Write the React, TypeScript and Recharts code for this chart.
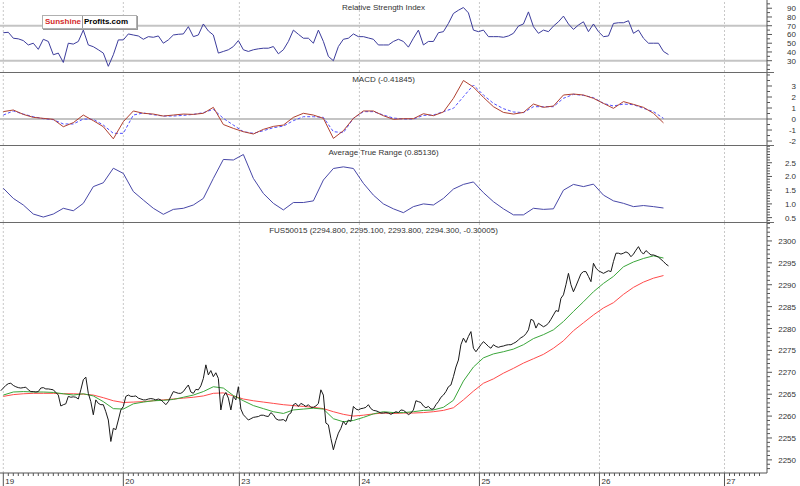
import React from 'react';
import { LineChart, Line, XAxis, YAxis, ReferenceLine } from 'recharts';

// day session starts, in hours from the first session (19th)
const DAY_LABELS = ['19', '20', '23', '24', '25', '26', '27'];
const DAY_HOURS = [0, 24, 47.2, 71.2, 95.2, 119.2, 144.2];
const X_MIN = -0.66;
const X_MAX = 152.7;

// RSI, hourly
const RSI = [
  62, 62.5, 55.7, 55, 53, 48, 50, 43, 54.5, 52, 36.8, 38.7, 28, 50, 49, 52, 65, 48, 46, 42.5,
  38.7, 23.6, 36.8, 53.8, 53.8, 60.6, 59.4, 58.3, 54.5, 57.5, 56.8, 58.3, 50, 53.8, 59.4, 60.2, 60.6, 68.9, 57.5, 59.4,
  72, 64, 59.4, 38.7, 40.6, 42.5, 46.2, 53, 42.5, 40.6, 42.5, 43.6, 44.3, 44.3, 46.2, 37.9, 42.5, 52, 65, 60.2,
  55.7, 55.7, 50, 65, 52, 34.9, 30, 46.2, 54.5, 55.7, 60.6, 57.5, 57.5, 56, 54.5, 48, 48, 48, 52, 54.5,
  52, 45.5, 55.7, 65, 48, 52, 52, 62, 63.2, 72.6, 84, 87.7, 90.8, 84.7, 65, 63.2, 65, 57.5, 57.5, 57.5,
  56.8, 58.3, 61.3, 69.6, 72, 85.8, 68.9, 61.3, 65, 63.2, 69.6, 74.5, 81, 72, 65.8, 70.8, 74.5, 63.2, 72, 63.2,
  57.5, 58.3, 72.6, 73.4, 73.4, 75.7, 61.3, 65, 55.7, 50, 50, 50, 40.6, 37,
];
const RSI_LABELS = [30, 40, 50, 60, 70, 80, 90];

// MACD and its signal line, every 2 hours
const MACD = [
  0.67, 0.82, 0.42, 0.15, 0.06, -0.03, -0.7, -0.33, 0.36, -0.15, -0.7, -1.8, -0.24, 0.73, 0.52, 0.45, 0.27, 0.36, 0.45, 0.42,
  0.52, 1.06, -0.5, -0.85, -1.15, -1.36, -0.94, -0.67, -0.55, 0.15, 0.52, 0.36, 0.06, -1.76, -1.06, 0.06, 0.73, 0.73, 0.3, -0.03,
  0.03, 0.03, 0.48, 0.3, 0.64, 1.88, 3.5, 2.9, 1.97, 1.12, 0.6, 0.45, 0.6, 1.36, 1.06, 1.18, 2.18, 2.27, 2.18, 1.88,
  1.42, 0.97, 1.58, 1.33, 1.06, 0.52, -0.35,
];
const SIGNAL = [
  0.36, 0.73, 0.45, 0.21, 0.03, -0.06, -0.45, -0.45, 0, -0.03, -0.55, -1.3, -1.3, 0.36, 0.55, 0.39, 0.27, 0.27, 0.33, 0.42,
  0.58, 0.88, 0.06, -0.55, -1.15, -1.3, -1.06, -0.79, -0.64, -0.15, 0.21, 0.21, 0.15, -1.15, -1.24, 0.06, 0.67, 0.67, 0.36, 0.09,
  0, 0, 0.33, 0.36, 0.67, 0.97, 2.03, 3.09, 2.18, 1.42, 0.94, 0.64, 0.58, 1.12, 1.12, 1.12, 1.88, 2.24, 2.15, 1.94,
  1.42, 1.18, 1.36, 1.3, 0.97, 0.67, 0.06,
];
const MACD_LABELS = [-2, -1, 0, 1, 2, 3];

// Average True Range, every 2 hours
const ATR = [
  1.57, 1.2, 0.96, 0.63, 0.52, 0.63, 0.84, 0.75, 1.02, 1.63, 1.77, 2.3, 2.11, 1.45, 1.14, 0.84, 0.62, 0.8, 0.84, 0.96,
  1.2, 1.93, 2.62, 2.6, 2.8, 1.93, 1.38, 1.02, 0.78, 1.05, 1.05, 1.11, 1.87, 2.29, 2.35, 2.29, 1.75, 1.32, 1.0, 0.82,
  0.68, 0.9, 1.0, 0.96, 1.2, 1.54, 1.71, 1.8, 1.41, 1.08, 0.82, 0.6, 0.6, 0.84, 0.8, 0.82, 1.5, 1.71, 1.63, 1.72,
  1.32, 1.11, 1.02, 0.9, 0.94, 0.9, 0.85,
];
const ATR_LABELS = [0.5, 1, 1.5, 2, 2.5];

// FUS50015 price, every half hour starting at -0.5h
const PRICE = [
  2265.8, 2266.4, 2267.0, 2267.4, 2267.5, 2267.0, 2266.7, 2266.5, 2266.4, 2266.5,
  2266.6, 2266.0, 2265.6, 2265.6, 2265.5, 2265.6, 2266.4, 2266.5, 2266.2, 2266.2,
  2266.1, 2266.0, 2265.4, 2264.8, 2262.3, 2262.6, 2262.8, 2264.5, 2264.3, 2264.4,
  2264.3, 2263.9, 2266.0, 2268.3, 2268.9, 2265.2, 2263.3, 2260.3, 2263.7, 2262.9,
  2262.6, 2262.6, 2261.0, 2259.1, 2254.2, 2257.2, 2256.9, 2259.1, 2261.4, 2262.2,
  2264.5, 2264.8, 2264.5, 2264.5, 2264.6, 2264.1, 2263.9, 2263.7, 2263.7, 2263.9,
  2264.0, 2263.9, 2263.7, 2263.9, 2263.7, 2263.2, 2262.6, 2263.3, 2264.5, 2265.6,
  2265.4, 2265.2, 2265.2, 2265.6, 2266.4, 2267.1, 2265.5, 2265.2, 2266.1, 2266.0,
  2266.9, 2268.6, 2271.7, 2269.4, 2270.4, 2269.0, 2269.9, 2268.6, 2261.4, 2264.5,
  2265.4, 2264.1, 2261.4, 2264.5, 2263.7, 2266.7, 2261.6, 2260.3, 2259.7, 2259.1,
  2259.4, 2259.7, 2259.8, 2259.9, 2260.2, 2260.2, 2260.0, 2259.9, 2260.8, 2260.3,
  2259.4, 2259.1, 2259.1, 2259.2, 2258.8, 2260.3, 2260.7, 2262.6, 2262.9, 2262.2,
  2262.9, 2262.6, 2262.2, 2262.6, 2262.0, 2262.0, 2262.3, 2262.9, 2266.0, 2264.8,
  2258.4, 2258.0, 2254.9, 2252.3, 2254.4, 2256.1, 2257.2, 2258.8, 2258.0, 2259.1,
  2258.8, 2262.2, 2261.6, 2261.4, 2261.7, 2261.8, 2262.0, 2262.6, 2261.7, 2261.3,
  2261.2, 2261.0, 2260.7, 2260.7, 2260.8, 2260.7, 2260.4, 2260.7, 2261.0, 2260.8,
  2261.4, 2261.3, 2260.9, 2260.3, 2260.7, 2261.4, 2263.5, 2263.3, 2263.1, 2262.3,
  2261.9, 2262.2, 2261.6, 2261.6, 2262.6, 2263.3, 2264.3, 2264.8, 2265.6, 2266.7,
  2267.1, 2269.0, 2271.2, 2272.8, 2276.3, 2277.8, 2276.8, 2278.2, 2279.3, 2275.5,
  2274.7, 2275.5, 2276.3, 2277.0, 2276.5, 2275.9, 2275.5, 2276.3, 2275.9, 2275.7,
  2275.9, 2276.0, 2276.2, 2276.3, 2276.3, 2276.6, 2276.9, 2277.4, 2277.9, 2278.2,
  2278.8, 2279.7, 2282.1, 2281.8, 2280.1, 2281.2, 2280.8, 2280.4, 2280.7, 2281.2,
  2282.1, 2283.1, 2284.1, 2283.9, 2286.9, 2287.7, 2290.0, 2292.6, 2290.0, 2288.4,
  2289.7, 2291.1, 2292.5, 2293.0, 2293.0, 2291.9, 2290.7, 2294.9, 2293.8, 2293.2,
  2292.9, 2292.6, 2292.9, 2293.2, 2293.0, 2295.3, 2297.2, 2297.2, 2297.0, 2297.2,
  2297.5, 2297.2, 2296.4, 2297.0, 2297.9, 2298.7, 2297.6, 2297.0, 2297.8, 2297.3,
  2296.8, 2296.8, 2296.6, 2296.3, 2295.8, 2295.3, 2294.7, 2294.3,
];
// moving averages, every 2 hours
const MA_FAST = [
  2264.8, 2265.5, 2265.6, 2265.5, 2265.5, 2265.4, 2265.1, 2264.8, 2265.1, 2264.6,
  2263.3, 2261.7, 2261.6, 2262.8, 2263.2, 2263.5, 2263.6, 2263.8, 2264.3, 2264.8,
  2265.6, 2266.7, 2266.4, 2264.7, 2263.5, 2262.4, 2261.7, 2261.0, 2260.6, 2261.4,
  2261.6, 2261.8, 2261.6, 2259.4, 2258.7, 2259.0, 2259.7, 2260.5, 2261.0, 2260.8,
  2260.8, 2261.0, 2261.3, 2261.4, 2262.0, 2263.6, 2268.0, 2271.2, 2273.3, 2274.2,
  2274.7, 2275.3, 2276.3, 2277.7, 2278.6, 2279.7, 2281.6, 2283.9, 2286.1, 2288.4,
  2290.3, 2291.9, 2294.1, 2295.2, 2296.0, 2296.6, 2296.1,
];
const MA_SLOW = [
  2264.5, 2264.9, 2265.1, 2265.2, 2265.2, 2265.2, 2265.1, 2265.1, 2265.0, 2264.8,
  2264.2, 2263.5, 2263.1, 2263.2, 2263.3, 2263.5, 2263.7, 2263.9, 2264.1, 2264.3,
  2264.6, 2265.2, 2265.3, 2264.6, 2263.9, 2263.5, 2263.2, 2262.9, 2262.6, 2262.4,
  2262.2, 2262.0, 2261.7, 2261.0, 2260.4, 2260.0, 2260.2, 2260.5, 2260.7, 2260.6,
  2260.7, 2260.7, 2260.8, 2261.0, 2261.3, 2261.9, 2263.7, 2265.7, 2267.5, 2268.5,
  2269.8, 2270.9, 2272.1, 2273.1, 2274.1, 2275.5, 2277.2, 2279.5, 2281.3, 2283.1,
  2284.7, 2285.9, 2287.8, 2289.4, 2290.6, 2291.5, 2292.1,
];
const PRICE_LABELS = [2250, 2255, 2260, 2265, 2270, 2275, 2280, 2285, 2290, 2295, 2300];

const FONT = '"Liberation Sans", Arial, sans-serif';
const AXIS = '#555';

const rsiData = RSI.map((v, i) => ({ h: i, v }));
const macdData = MACD.map((v, i) => ({ h: 2 * i, macd: v, signal: SIGNAL[i] }));
const atrData = ATR.map((v, i) => ({ h: 2 * i, v }));
const priceData = PRICE.map((v, i) => ({ h: -0.5 + 0.5 * i, v }));
const maData = MA_FAST.map((v, i) => ({ h: 2 * i, fast: v, slow: MA_SLOW[i] }));

const steps = (from: number, to: number, step: number) => {
  const out: number[] = [];
  const n = Math.round((to - from) / step);
  for (let i = 0; i <= n; i++) out.push(Math.round((from + i * step) * 1000) / 1000);
  return out;
};

const hourTicks = DAY_HOURS.flatMap((d, i) => {
  const next = DAY_HOURS[i + 1] ?? X_MAX;
  const out: number[] = [];
  for (let k = 0; d + k < next - 0.5; k++) out.push(d + k);
  return out;
});

const yTick = (labels: number[], fmt: (v: number) => string) => (props: any) => {
  const { x, y, payload } = props;
  const v = payload.value;
  const major = labels.some((l) => Math.abs(l - v) < 1e-6);
  return (
    <g>
      <line x1={x} y1={y} x2={x + (major ? 5 : 3)} y2={y} stroke={AXIS} />
      {major && (
        <text x={x + 29} y={y + 3} textAnchor="end" fontSize={8} fontFamily={FONT} fill="#333">
          {fmt(v)}
        </text>
      )}
    </g>
  );
};

const xTick = (props: any) => {
  const { x, y, payload } = props;
  const idx = DAY_HOURS.indexOf(payload.value);
  return (
    <g>
      <line x1={x} y1={y} x2={x} y2={y + (idx >= 0 ? 13 : 3)} stroke={AXIS} />
      {idx >= 0 && (
        <text x={x + 2} y={y + 11} fontSize={8} fontFamily={FONT} fill="#333">
          {DAY_LABELS[idx]}
        </text>
      )}
    </g>
  );
};

const dayLines = () =>
  DAY_HOURS.map((d) => (
    <ReferenceLine key={d} x={d} stroke="#c8c8c8" strokeDasharray="2 2" ifOverflow="hidden" />
  ));

const title = (text: string, top: number) => (
  <div
    style={{
      position: 'absolute', left: 0, top, width: 767, textAlign: 'center',
      fontFamily: FONT, fontSize: 8, lineHeight: '10px', color: '#333',
    }}
  >
    {text}
  </div>
);

const sep = (top: number) => (
  <div style={{ position: 'absolute', left: 0, top, width: 774, height: 1, background: '#6a6a6a' }} />
);

const M = { top: 0, right: 0, bottom: 0, left: 0 };

export default function App() {
  return (
    <div style={{ position: 'absolute', left: 0, top: 0, width: 800, height: 486, background: '#fff', overflow: 'hidden' }}>
      {/* RSI */}
      <div style={{ position: 'absolute', left: 0, top: 0 }}>
        <LineChart width={800} height={72} margin={M}>
          <XAxis type="number" dataKey="h" domain={[X_MIN, X_MAX]} hide allowDataOverflow />
          <YAxis
            orientation="right" width={33} type="number" domain={[17.1, 99.4]} allowDataOverflow
            ticks={steps(20, 95, 5)} interval={0} tickSize={0} tickMargin={0}
            tick={yTick(RSI_LABELS, (v) => String(v))} axisLine={{ stroke: AXIS }}
          />
          {dayLines()}
          <ReferenceLine y={70} stroke="#c4c4c4" strokeWidth={2} />
          <ReferenceLine y={30} stroke="#c4c4c4" strokeWidth={2} />
          <Line data={rsiData} dataKey="v" stroke="#3c3c9c" strokeWidth={1} dot={false} activeDot={false} isAnimationActive={false} />
        </LineChart>
      </div>
      {sep(72)}

      {/* MACD */}
      <div style={{ position: 'absolute', left: 0, top: 73 }}>
        <LineChart width={800} height={72} margin={M}>
          <XAxis type="number" dataKey="h" domain={[X_MIN, X_MAX]} hide allowDataOverflow />
          <YAxis
            orientation="right" width={33} type="number" domain={[-2.36, 4.18]} allowDataOverflow
            ticks={steps(-2, 4, 0.5)} interval={0} tickSize={0} tickMargin={0}
            tick={yTick(MACD_LABELS, (v) => String(v))} axisLine={{ stroke: AXIS }}
          />
          {dayLines()}
          <ReferenceLine y={0} stroke="#c4c4c4" strokeWidth={2} />
          <Line data={macdData} dataKey="signal" stroke="#5050ff" strokeDasharray="3 2" strokeWidth={1} dot={false} activeDot={false} isAnimationActive={false} />
          <Line data={macdData} dataKey="macd" stroke="#b04030" strokeWidth={1} dot={false} activeDot={false} isAnimationActive={false} />
        </LineChart>
      </div>
      {sep(145)}

      {/* ATR */}
      <div style={{ position: 'absolute', left: 0, top: 146 }}>
        <LineChart width={800} height={76} margin={M}>
          <XAxis type="number" dataKey="h" domain={[X_MIN, X_MAX]} hide allowDataOverflow />
          <YAxis
            orientation="right" width={33} type="number" domain={[0.34, 3.11]} allowDataOverflow
            ticks={steps(0.4, 3.1, 0.1)} interval={0} tickSize={0} tickMargin={0}
            tick={yTick(ATR_LABELS, (v) => v.toFixed(1))} axisLine={{ stroke: AXIS }}
          />
          {dayLines()}
          <Line data={atrData} dataKey="v" stroke="#4848a8" strokeWidth={1} dot={false} activeDot={false} isAnimationActive={false} />
        </LineChart>
      </div>
      {sep(222)}

      {/* Price */}
      <div style={{ position: 'absolute', left: 0, top: 223 }}>
        <LineChart width={800} height={263} margin={M}>
          <XAxis
            type="number" dataKey="h" domain={[X_MIN, X_MAX]} allowDataOverflow height={13}
            ticks={hourTicks} interval={0} tickSize={0} tickMargin={0} tick={xTick}
            axisLine={{ stroke: AXIS }}
          />
          <YAxis
            orientation="right" width={33} type="number" domain={[2247.0, 2304.1]} allowDataOverflow
            ticks={steps(2248, 2304, 1)} interval={0} tickSize={0} tickMargin={0}
            tick={yTick(PRICE_LABELS, (v) => String(v))} axisLine={{ stroke: AXIS }}
          />
          {dayLines()}
          <Line data={maData} dataKey="slow" stroke="#ff4a4a" strokeWidth={1} dot={false} activeDot={false} isAnimationActive={false} />
          <Line data={maData} dataKey="fast" stroke="#3aa63a" strokeWidth={1} dot={false} activeDot={false} isAnimationActive={false} />
          <Line data={priceData} dataKey="v" stroke="#1a1a1a" strokeWidth={1} dot={false} activeDot={false} isAnimationActive={false} />
        </LineChart>
      </div>

      {title('Relative Strength Index', 3)}
      {title('MACD (-0.41845)', 75)}
      {title('Average True Range (0.85136)', 148)}
      {title('FUS50015 (2294.800, 2295.100, 2293.800, 2294.300, -0.30005)', 226)}

      <div
        style={{
          position: 'absolute', left: 42, top: 15, height: 12, display: 'flex', alignItems: 'center',
          border: '1px solid #b0b0b0', boxShadow: '1px 1px 0 #999', background: '#fff',
          fontFamily: FONT, fontSize: 8, fontWeight: 'bold', lineHeight: '12px',
        }}
      >
        <span style={{ color: '#d42a2a', padding: '0 1px 0 2px', borderRight: '1px solid #999' }}>Sunshine</span>
        <span style={{ color: '#000', padding: '0 8px 0 1px' }}>Profits.com</span>
      </div>
    </div>
  );
}
